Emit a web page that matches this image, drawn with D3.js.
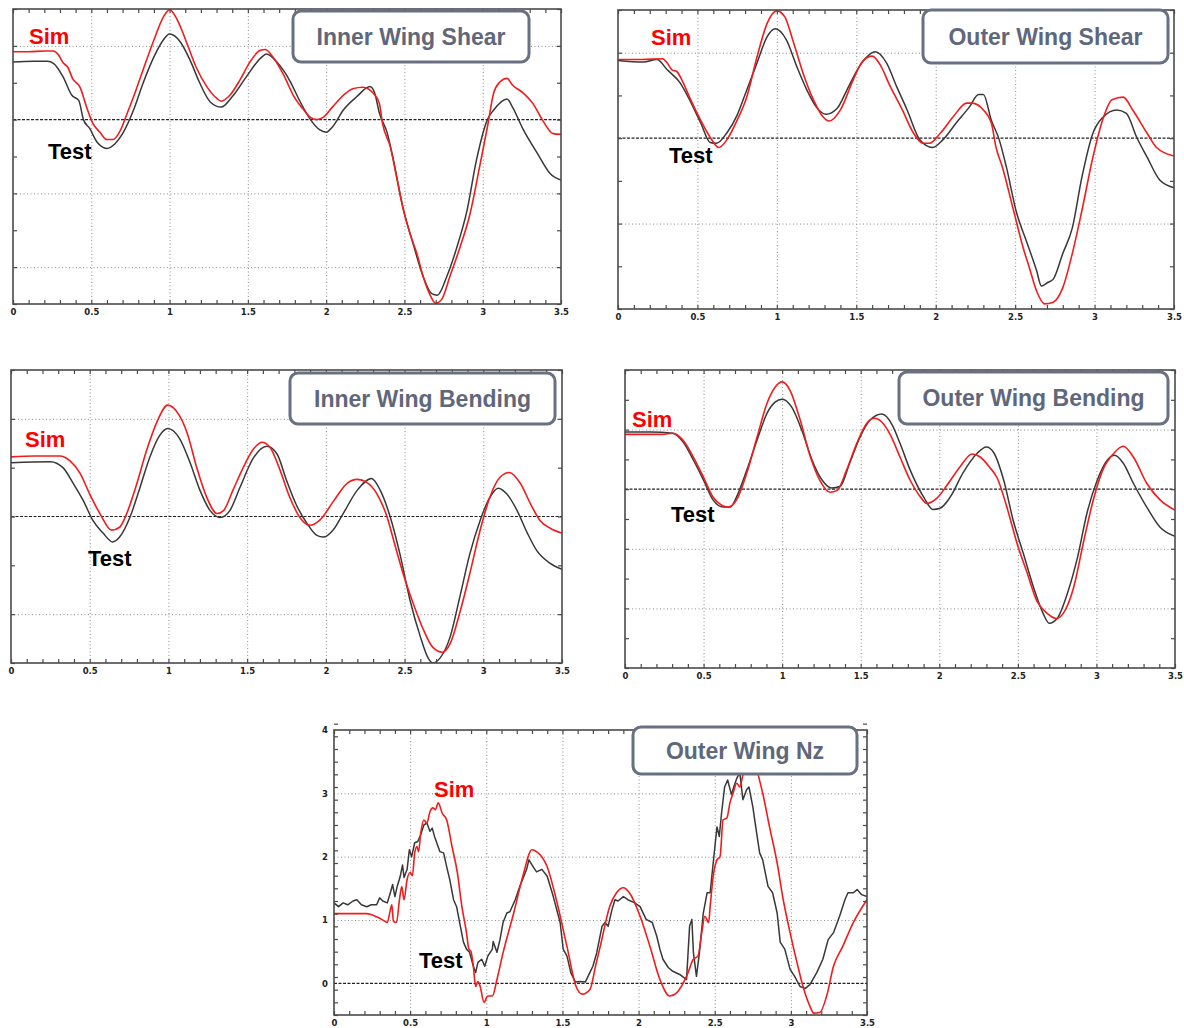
<!DOCTYPE html>
<html><head><meta charset="utf-8">
<script src="https://cdn.jsdelivr.net/npm/d3@7"></script>
<style>
body{margin:0;background:#fff;}
svg{display:block;}
</style></head><body>
<svg id="chart" width="1184" height="1028"></svg>
<script>
// Time histories [t (s), value]; Sim = simulation, Test = flight test
const innerShearSim = [[0,0.92],[0.1,0.92],[0.2,0.93],[0.255,0.93],[0.29,0.88],[0.32,0.77],[0.35,0.71],[0.38,0.56],[0.43,0.43],[0.47,0.17],[0.51,-0.05],[0.555,-0.17],[0.6,-0.27],[0.64,-0.27],[0.68,-0.17],[0.73,0.09],[0.77,0.31],[0.83,0.67],[0.9,1.08],[0.96,1.39],[1.0,1.49],[1.05,1.35],[1.11,1.04],[1.17,0.71],[1.24,0.44],[1.3,0.29],[1.33,0.25],[1.385,0.33],[1.45,0.54],[1.51,0.77],[1.58,0.94],[1.61,0.95],[1.66,0.85],[1.73,0.6],[1.79,0.33],[1.85,0.15],[1.9,0.03],[1.94,0.0],[1.98,0.03],[2.04,0.17],[2.11,0.33],[2.17,0.42],[2.235,0.44],[2.3,0.36],[2.34,0.22],[2.36,-0.05],[2.41,-0.37],[2.45,-0.78],[2.49,-1.19],[2.535,-1.54],[2.58,-1.82],[2.62,-2.13],[2.66,-2.36],[2.7,-2.49],[2.74,-2.43],[2.79,-2.13],[2.855,-1.73],[2.92,-1.27],[2.98,-0.64],[3.03,-0.1],[3.07,0.36],[3.11,0.51],[3.155,0.56],[3.19,0.47],[3.26,0.36],[3.32,0.22],[3.38,0.0],[3.45,-0.19],[3.5,-0.2]];
const innerShearTest = [[0,0.78],[0.13,0.79],[0.22,0.79],[0.26,0.76],[0.32,0.58],[0.376,0.33],[0.42,0.26],[0.45,0.0],[0.49,-0.12],[0.535,-0.3],[0.6,-0.39],[0.65,-0.33],[0.7,-0.19],[0.77,0.13],[0.83,0.49],[0.9,0.85],[0.96,1.08],[1.0,1.16],[1.07,1.05],[1.13,0.81],[1.19,0.51],[1.26,0.24],[1.33,0.17],[1.4,0.31],[1.49,0.58],[1.58,0.83],[1.62,0.89],[1.685,0.78],[1.77,0.52],[1.83,0.26],[1.9,0.0],[1.96,-0.14],[2.0,-0.17],[2.04,-0.1],[2.11,0.13],[2.195,0.31],[2.28,0.45],[2.31,0.36],[2.34,0.09],[2.39,-0.18],[2.43,-0.55],[2.49,-1.19],[2.555,-1.68],[2.62,-2.13],[2.675,-2.36],[2.71,-2.38],[2.77,-2.13],[2.835,-1.73],[2.9,-1.23],[2.96,-0.55],[3.03,0.0],[3.07,0.13],[3.155,0.28],[3.19,0.17],[3.26,-0.14],[3.35,-0.46],[3.43,-0.73],[3.5,-0.82]];

const outerShearSim = [[0,0.92],[0.15,0.92],[0.28,0.93],[0.31,0.88],[0.34,0.8],[0.37,0.78],[0.41,0.65],[0.45,0.48],[0.52,0.21],[0.58,0.01],[0.635,-0.11],[0.685,-0.02],[0.75,0.21],[0.81,0.48],[0.875,0.95],[0.94,1.35],[1.0,1.49],[1.05,1.42],[1.1,1.15],[1.165,0.76],[1.23,0.45],[1.29,0.25],[1.33,0.2],[1.4,0.33],[1.48,0.68],[1.54,0.9],[1.6,0.96],[1.65,0.86],[1.71,0.62],[1.79,0.33],[1.86,0.06],[1.92,-0.06],[1.96,-0.06],[2.03,0.06],[2.11,0.25],[2.195,0.41],[2.23,0.41],[2.3,0.33],[2.35,0.18],[2.38,-0.11],[2.42,-0.34],[2.485,-0.81],[2.55,-1.28],[2.59,-1.52],[2.635,-1.79],[2.685,-1.94],[2.74,-1.92],[2.8,-1.75],[2.86,-1.35],[2.92,-0.85],[2.99,-0.22],[3.05,0.21],[3.11,0.45],[3.18,0.48],[3.24,0.33],[3.33,0.06],[3.39,-0.11],[3.5,-0.21]];
const outerShearTest = [[0,0.91],[0.16,0.89],[0.245,0.92],[0.31,0.8],[0.39,0.65],[0.45,0.45],[0.52,0.18],[0.58,-0.05],[0.62,-0.06],[0.685,0.06],[0.75,0.27],[0.81,0.56],[0.875,0.88],[0.94,1.19],[0.99,1.28],[1.06,1.15],[1.125,0.84],[1.19,0.56],[1.25,0.36],[1.31,0.28],[1.38,0.35],[1.44,0.56],[1.52,0.84],[1.62,1.01],[1.69,0.88],[1.755,0.6],[1.82,0.33],[1.9,-0.02],[1.98,-0.11],[2.045,-0.02],[2.13,0.18],[2.21,0.36],[2.27,0.51],[2.3,0.51],[2.35,0.21],[2.4,-0.02],[2.445,-0.34],[2.51,-0.88],[2.57,-1.2],[2.635,-1.55],[2.665,-1.73],[2.705,-1.69],[2.74,-1.65],[2.8,-1.35],[2.86,-1.05],[2.92,-0.46],[2.99,0.06],[3.05,0.24],[3.14,0.33],[3.2,0.29],[3.265,0.01],[3.33,-0.22],[3.41,-0.49],[3.5,-0.58]];

const innerBendSim = [[0,0.61],[0.15,0.62],[0.31,0.62],[0.375,0.57],[0.44,0.44],[0.5,0.23],[0.565,0.03],[0.64,-0.14],[0.69,-0.11],[0.735,0.03],[0.8,0.34],[0.86,0.67],[0.93,0.98],[0.995,1.14],[1.05,1.08],[1.12,0.85],[1.18,0.5],[1.245,0.19],[1.31,0.03],[1.35,0.06],[1.41,0.27],[1.475,0.5],[1.54,0.69],[1.595,0.76],[1.645,0.71],[1.71,0.47],[1.77,0.2],[1.835,-0.01],[1.9,-0.09],[1.96,-0.04],[2.05,0.16],[2.135,0.34],[2.2,0.38],[2.26,0.35],[2.325,0.23],[2.39,-0.01],[2.43,-0.24],[2.49,-0.58],[2.555,-0.89],[2.62,-1.16],[2.68,-1.34],[2.74,-1.39],[2.79,-1.3],[2.85,-0.99],[2.915,-0.58],[2.98,-0.14],[3.04,0.19],[3.105,0.4],[3.165,0.45],[3.235,0.34],[3.3,0.13],[3.36,-0.04],[3.425,-0.12],[3.5,-0.17]];
const innerBendTest = [[0,0.55],[0.25,0.56],[0.33,0.5],[0.395,0.34],[0.46,0.16],[0.52,-0.04],[0.585,-0.17],[0.645,-0.26],[0.69,-0.21],[0.755,-0.01],[0.82,0.3],[0.88,0.6],[0.945,0.83],[0.995,0.9],[1.07,0.8],[1.14,0.54],[1.2,0.27],[1.265,0.06],[1.33,-0.01],[1.39,0.06],[1.455,0.3],[1.54,0.6],[1.625,0.72],[1.69,0.64],[1.75,0.37],[1.815,0.11],[1.88,-0.07],[1.94,-0.19],[1.985,-0.21],[2.045,-0.14],[2.11,0.03],[2.2,0.27],[2.29,0.39],[2.345,0.27],[2.41,-0.01],[2.47,-0.38],[2.535,-0.86],[2.6,-1.23],[2.65,-1.45],[2.68,-1.5],[2.725,-1.45],[2.79,-1.23],[2.85,-0.83],[2.915,-0.38],[2.98,-0.04],[3.04,0.19],[3.095,0.29],[3.15,0.23],[3.215,0.06],[3.28,-0.17],[3.34,-0.35],[3.425,-0.48],[3.5,-0.54]];

const outerBendSim = [[0,0.92],[0.24,0.92],[0.305,0.94],[0.37,0.82],[0.435,0.54],[0.5,0.2],[0.56,-0.13],[0.615,-0.27],[0.655,-0.3],[0.71,-0.18],[0.775,0.27],[0.84,0.87],[0.905,1.45],[0.955,1.71],[1.0,1.8],[1.05,1.66],[1.115,1.16],[1.18,0.54],[1.24,0.15],[1.305,-0.05],[1.35,-0.02],[1.41,0.32],[1.475,0.77],[1.54,1.11],[1.59,1.19],[1.64,1.11],[1.7,0.85],[1.75,0.54],[1.815,0.15],[1.88,-0.13],[1.92,-0.24],[1.985,-0.15],[2.05,0.07],[2.13,0.37],[2.21,0.59],[2.26,0.54],[2.32,0.37],[2.37,0.18],[2.43,-0.3],[2.495,-0.91],[2.56,-1.41],[2.62,-1.87],[2.685,-2.08],[2.745,-2.17],[2.79,-2.08],[2.855,-1.65],[2.92,-0.86],[2.98,-0.18],[3.04,0.32],[3.11,0.6],[3.17,0.72],[3.235,0.54],[3.32,0.1],[3.405,-0.18],[3.5,-0.35]];
const outerBendTest = [[0,0.96],[0.16,0.96],[0.305,0.94],[0.37,0.79],[0.435,0.49],[0.5,0.15],[0.56,-0.18],[0.625,-0.3],[0.67,-0.3],[0.71,-0.13],[0.775,0.32],[0.84,0.82],[0.905,1.28],[0.955,1.46],[1.0,1.51],[1.06,1.38],[1.125,0.99],[1.19,0.49],[1.255,0.15],[1.315,0.02],[1.37,0.05],[1.43,0.44],[1.495,0.87],[1.56,1.16],[1.635,1.26],[1.7,1.08],[1.75,0.77],[1.815,0.32],[1.9,-0.13],[1.96,-0.34],[2.005,-0.32],[2.07,-0.13],[2.15,0.27],[2.24,0.6],[2.3,0.71],[2.345,0.62],[2.41,0.15],[2.47,-0.52],[2.535,-1.08],[2.6,-1.65],[2.66,-2.08],[2.7,-2.25],[2.75,-2.17],[2.815,-1.75],[2.88,-1.14],[2.94,-0.4],[3.005,0.15],[3.07,0.49],[3.115,0.57],[3.17,0.44],[3.235,0.1],[3.32,-0.3],[3.405,-0.64],[3.5,-0.79]];

const nzSim = [[0,1.1],[0.215,1.1],[0.28,1.05],[0.335,0.98],[0.35,0.96],[0.37,1.16],[0.38,1.24],[0.39,0.98],[0.41,0.96],[0.43,1.32],[0.445,1.53],[0.46,1.32],[0.48,1.64],[0.5,1.75],[0.515,1.7],[0.53,2.06],[0.545,2.16],[0.555,2.08],[0.57,2.38],[0.59,2.58],[0.61,2.53],[0.63,2.71],[0.65,2.77],[0.665,2.74],[0.685,2.85],[0.71,2.69],[0.74,2.58],[0.775,2.16],[0.81,1.75],[0.84,1.21],[0.87,0.8],[0.885,0.55],[0.9,0.5],[0.915,0.27],[0.93,-0.05],[0.945,0.03],[0.96,-0.05],[0.985,-0.3],[1.01,-0.2],[1.04,-0.2],[1.07,0.06],[1.11,0.48],[1.18,1.11],[1.24,1.69],[1.3,2.11],[1.33,2.08],[1.4,1.84],[1.46,1.32],[1.53,0.58],[1.59,-0.05],[1.63,-0.17],[1.68,-0.1],[1.72,0.3],[1.75,0.6],[1.81,1.21],[1.855,1.43],[1.9,1.51],[1.94,1.43],[2.01,1.06],[2.075,0.58],[2.14,0.06],[2.205,-0.2],[2.25,-0.15],[2.315,0.11],[2.36,0.38],[2.39,0.43],[2.415,0.8],[2.435,1.06],[2.46,0.96],[2.47,1.21],[2.49,1.69],[2.515,1.95],[2.535,2.0],[2.555,2.58],[2.58,2.61],[2.6,2.85],[2.62,3.0],[2.645,3.16],[2.665,3.1],[2.685,3.29],[2.72,3.6],[2.75,3.65],[2.785,3.3],[2.82,2.95],[2.86,2.47],[2.91,1.9],[2.95,1.32],[2.995,0.8],[3.04,0.33],[3.08,-0.05],[3.125,-0.36],[3.15,-0.47],[3.19,-0.46],[3.235,-0.2],[3.28,0.27],[3.34,0.58],[3.41,0.96],[3.5,1.32]];
const nzTest = [[0,1.27],[0.03,1.21],[0.06,1.27],[0.09,1.24],[0.125,1.3],[0.15,1.32],[0.18,1.24],[0.215,1.21],[0.245,1.24],[0.28,1.24],[0.3,1.35],[0.32,1.3],[0.35,1.27],[0.37,1.43],[0.385,1.56],[0.4,1.37],[0.415,1.53],[0.435,1.69],[0.45,1.87],[0.46,1.67],[0.48,1.8],[0.495,2.11],[0.51,2.0],[0.53,2.22],[0.55,2.24],[0.57,2.35],[0.59,2.5],[0.61,2.53],[0.63,2.4],[0.645,2.45],[0.66,2.32],[0.695,2.08],[0.72,2.06],[0.74,1.84],[0.76,1.64],[0.785,1.32],[0.805,1.21],[0.83,0.9],[0.85,0.65],[0.87,0.54],[0.89,0.49],[0.915,0.27],[0.93,0.17],[0.945,0.33],[0.97,0.38],[0.99,0.27],[1.01,0.43],[1.04,0.54],[1.045,0.66],[1.07,0.49],[1.09,0.69],[1.11,0.96],[1.135,1.11],[1.155,1.13],[1.19,1.32],[1.22,1.53],[1.265,1.8],[1.28,1.95],[1.31,1.83],[1.33,1.76],[1.365,1.8],[1.4,1.69],[1.44,1.37],[1.485,0.96],[1.505,0.54],[1.53,0.43],[1.555,0.17],[1.585,0.02],[1.615,0.03],[1.65,0.02],[1.68,0.17],[1.7,0.27],[1.725,0.48],[1.76,0.9],[1.78,0.96],[1.8,0.9],[1.825,1.16],[1.845,1.32],[1.865,1.3],[1.9,1.37],[1.93,1.32],[1.975,1.27],[2.01,1.21],[2.05,1.01],[2.09,0.96],[2.12,0.74],[2.14,0.54],[2.16,0.38],[2.195,0.25],[2.225,0.19],[2.27,0.14],[2.315,0.06],[2.335,0.9],[2.35,1.01],[2.36,0.49],[2.38,0.11],[2.4,0.49],[2.425,1.11],[2.45,1.43],[2.47,1.43],[2.49,1.9],[2.515,2.47],[2.53,2.32],[2.545,2.69],[2.565,3.1],[2.585,3.21],[2.61,2.98],[2.625,3.1],[2.645,3.24],[2.665,3.32],[2.685,2.9],[2.71,3.06],[2.725,3.1],[2.75,2.79],[2.775,2.38],[2.795,2.06],[2.815,1.95],[2.85,1.53],[2.88,1.43],[2.91,1.11],[2.93,0.65],[2.96,0.54],[2.995,0.22],[3.025,0.11],[3.06,-0.05],[3.095,-0.08],[3.125,-0.02],[3.17,0.17],[3.21,0.38],[3.245,0.69],[3.28,0.8],[3.32,1.06],[3.355,1.32],[3.375,1.43],[3.41,1.43],[3.435,1.48],[3.465,1.4],[3.5,1.37]];

// Axis ticks
const xTickValues = [0, 0.5, 1, 1.5, 2, 2.5, 3, 3.5];
const xTickLabels = ["0", "0.5", "1", "1.5", "2", "2.5", "3", "3.5"];
const nzYTickValues = [0, 1, 2, 3, 4];
const nzYTickLabels = ["0", "1", "2", "3", "4"];

const panels = [
  { title: "Inner Wing Shear", sim: innerShearSim, test: innerShearTest,
    left: 13, right: 561, top: 9, bottom: 304, yDomain: [-2.5, 1.5], yGrid: [1, -1, -2], yMinor: 0.5,
    box: [293, 11, 236, 51], simAt: [29, 44], testAt: [48, 159], curveSim: d3.curveMonotoneX, curveTest: d3.curveMonotoneX },
  { title: "Outer Wing Shear", sim: outerShearSim, test: outerShearTest,
    left: 618, right: 1174, top: 10, bottom: 309, yDomain: [-2, 1.5], yGrid: [1, -1], yMinor: 0.5,
    box: [923, 10, 245, 53], simAt: [651, 45], testAt: [669, 163], curveSim: d3.curveMonotoneX, curveTest: d3.curveMonotoneX },
  { title: "Inner Wing Bending", sim: innerBendSim, test: innerBendTest,
    left: 11, right: 562, top: 370, bottom: 663, yDomain: [-1.5, 1.5], yGrid: [1, -1], yMinor: 0.5,
    box: [290, 373, 265, 51], simAt: [25, 447], testAt: [88, 566], curveSim: d3.curveMonotoneX, curveTest: d3.curveMonotoneX },
  { title: "Outer Wing Bending", sim: outerBendSim, test: outerBendTest,
    left: 625, right: 1175, top: 370, bottom: 668, yDomain: [-3, 2], yGrid: [1, -1, -2], yMinor: 0.5,
    box: [899, 372, 269, 52], simAt: [632, 427], testAt: [671, 522], curveSim: d3.curveMonotoneX, curveTest: d3.curveMonotoneX },
  { title: "Outer Wing Nz", sim: nzSim, test: nzTest,
    left: 334, right: 867, top: 730, bottom: 1015, yDomain: [-0.5, 4], yGrid: [1, 2, 3], yMinor: 0.2,
    box: [633, 727, 224, 47], simAt: [434, 797], testAt: [419, 968], curveSim: d3.curveMonotoneX, curveTest: d3.curveLinear,
    yLabels: true }
];

const svg = d3.select("#chart");
const defs = svg.append("defs");
const SIM = "#f21c1c", TEST = "#383838", FRAME = "#4a4a4a", GRID = "#8c8c8c";

panels.forEach((p, i) => {
  const x = d3.scaleLinear().domain([0, 3.5]).range([p.left, p.right]);
  const y = d3.scaleLinear().domain(p.yDomain).range([p.bottom, p.top]);
  const w = p.right - p.left, h = p.bottom - p.top;
  const g = svg.append("g").attr("class", "panel");

  defs.append("clipPath").attr("id", "clip" + i)
    .append("rect").attr("x", p.left).attr("y", p.top).attr("width", w).attr("height", h);

  // dotted grid
  g.append("g").attr("transform", `translate(0,${p.bottom})`)
    .call(d3.axisBottom(x).tickValues(xTickValues.slice(1, -1)).tickSize(-h).tickFormat(""))
    .call(a => a.select(".domain").remove())
    .selectAll("line").attr("stroke", GRID).attr("stroke-width", 1).attr("stroke-dasharray", "1,2.5");
  g.append("g").attr("transform", `translate(${p.left},0)`)
    .call(d3.axisLeft(y).tickValues(p.yGrid).tickSize(-w).tickFormat(""))
    .call(a => a.select(".domain").remove())
    .selectAll("line").attr("stroke", GRID).attr("stroke-width", 1).attr("stroke-dasharray", "1,2.5");

  // zero reference line
  g.append("line").attr("x1", p.left).attr("x2", p.right).attr("y1", y(0)).attr("y2", y(0))
    .attr("stroke", "#222").attr("stroke-width", 1.2).attr("stroke-dasharray", "3,1.5");

  // series
  const plot = g.append("g").attr("clip-path", `url(#clip${i})`);
  plot.append("path").datum(p.test)
    .attr("d", d3.line().x(d => x(d[0])).y(d => y(d[1])).curve(p.curveTest))
    .attr("fill", "none").attr("stroke", TEST).attr("stroke-width", 1.5).attr("stroke-linejoin", "round");
  plot.append("path").datum(p.sim)
    .attr("d", d3.line().x(d => x(d[0])).y(d => y(d[1])).curve(p.curveSim))
    .attr("fill", "none").attr("stroke", SIM).attr("stroke-width", 1.6).attr("stroke-linejoin", "round");

  // inward minor ticks on all four sides
  const xMinor = d3.range(0, 35.5, 1).map(k => k / 10);
  const nY = Math.round((p.yDomain[1] - p.yDomain[0]) / p.yMinor);
  const yMinor = d3.range(0, nY + 1).map(k => p.yDomain[0] + k * p.yMinor);
  const tickStyle = sel => sel.call(a => a.select(".domain").remove())
    .selectAll("line").attr("stroke", FRAME).attr("stroke-width", 1.2);
  g.append("g").attr("transform", `translate(0,${p.bottom})`)
    .call(d3.axisBottom(x).tickValues(xMinor).tickSize(-4).tickFormat("")).call(tickStyle);
  g.append("g").attr("transform", `translate(0,${p.top})`)
    .call(d3.axisTop(x).tickValues(xMinor).tickSize(-4).tickFormat("")).call(tickStyle);
  g.append("g").attr("transform", `translate(${p.left},0)`)
    .call(d3.axisLeft(y).tickValues(yMinor).tickSize(-4).tickFormat("")).call(tickStyle);
  g.append("g").attr("transform", `translate(${p.right},0)`)
    .call(d3.axisRight(y).tickValues(yMinor).tickSize(-4).tickFormat("")).call(tickStyle);

  // frame
  g.append("rect").attr("x", p.left).attr("y", p.top).attr("width", w).attr("height", h)
    .attr("fill", "none").attr("stroke", FRAME).attr("stroke-width", 1.6);

  // tick labels
  const xLab = g.append("g").attr("transform", `translate(0,${p.bottom})`)
    .call(d3.axisBottom(x).tickValues(xTickValues).tickSize(0).tickPadding(5)
      .tickFormat((d, k) => xTickLabels[k]));
  xLab.select(".domain").remove();
  xLab.selectAll("text").attr("font-family", "DejaVu Sans, sans-serif").attr("font-size", 8.5)
    .attr("font-weight", "bold").attr("fill", "#222");
  if (p.yLabels) {
    const yLab = g.append("g").attr("transform", `translate(${p.left},0)`)
      .call(d3.axisLeft(y).tickValues(nzYTickValues).tickSize(0).tickPadding(6)
        .tickFormat((d, k) => nzYTickLabels[k]));
    yLab.select(".domain").remove();
    yLab.selectAll("text").attr("font-family", "DejaVu Sans, sans-serif").attr("font-size", 8.5)
      .attr("font-weight", "bold").attr("fill", "#222");
  }

  // series labels
  g.append("text").attr("x", p.simAt[0]).attr("y", p.simAt[1]).text("Sim")
    .attr("font-family", "Liberation Sans, Arial, sans-serif").attr("font-weight", "bold")
    .attr("font-size", 22).attr("fill", "#ff0000");
  g.append("text").attr("x", p.testAt[0]).attr("y", p.testAt[1]).text("Test")
    .attr("font-family", "Liberation Sans, Arial, sans-serif").attr("font-weight", "bold")
    .attr("font-size", 22).attr("fill", "#000");

  // title box
  const [bx, by, bw, bh] = p.box;
  g.append("rect").attr("x", bx).attr("y", by).attr("width", bw).attr("height", bh)
    .attr("rx", 8).attr("fill", "#fff").attr("stroke", "#697083").attr("stroke-width", 3);
  g.append("text").attr("x", bx + bw / 2).attr("y", by + bh / 2 + 8).attr("text-anchor", "middle")
    .text(p.title).attr("font-family", "Liberation Sans, Arial, sans-serif").attr("font-weight", "bold")
    .attr("font-size", 23).attr("fill", "#60677a");
});
</script>
</body></html>
